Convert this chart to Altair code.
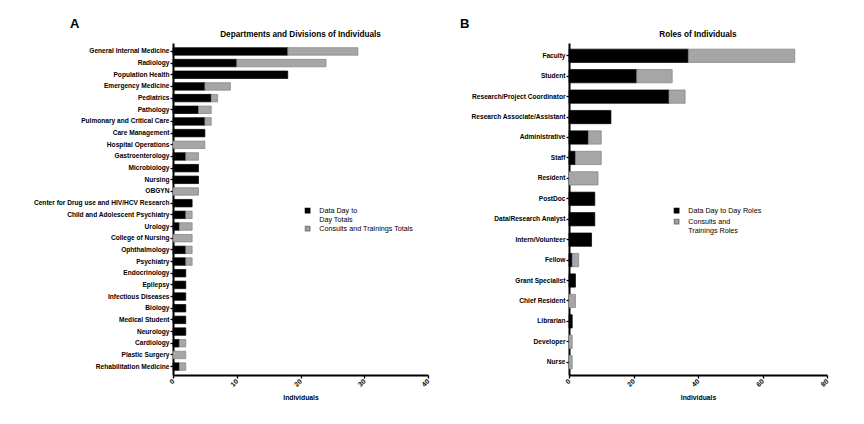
import altair as alt
import pandas as pd

dept_names = [
    "General Internal Medicine", "Radiology", "Population Health", "Emergency Medicine",
    "Pediatrics", "Pathology", "Pulmonary and Critical Care", "Care Management",
    "Hospital Operations", "Gastroenterology", "Microbiology", "Nursing", "OBGYN",
    "Center for Drug use and HIV/HCV Research", "Child and Adolescent Psychiatry",
    "Urology", "College of Nursing", "Ophthalmology", "Psychiatry", "Endocrinology",
    "Epilepsy", "Infectious Diseases", "Biology", "Medical Student", "Neurology",
    "Cardiology", "Plastic Surgery", "Rehabilitation Medicine",
]
dept_day = [18, 10, 18, 5, 6, 4, 5, 5, 0, 2, 4, 4, 0, 3, 2, 1, 0, 2, 2, 2, 2, 2, 2, 2, 2, 1, 0, 1]
dept_consult = [11, 14, 0, 4, 1, 2, 1, 0, 5, 2, 0, 0, 4, 0, 1, 2, 3, 1, 1, 0, 0, 0, 0, 0, 0, 1, 2, 1]

role_names = [
    "Faculty", "Student", "Research/Project Coordinator", "Research Associate/Assistant",
    "Administrative", "Staff", "Resident", "PostDoc", "Data/Research Analyst",
    "Intern/Volunteer", "Fellow", "Grant Specialist", "Chief Resident", "Librarian",
    "Developer", "Nurse",
]
role_day = [37, 21, 31, 13, 6, 2, 0, 8, 8, 7, 1, 2, 0, 1, 0, 0]
role_consult = [33, 11, 5, 0, 4, 8, 9, 0, 0, 0, 2, 0, 2, 0, 1, 1]

dept_series = ["Data Day to Day Totals", "Consults and Trainings Totals"]
role_series = ["Data Day to Day Roles", "Consults and Trainings Roles"]
x_ticks_a = [0, 10, 20, 30, 40]
x_ticks_b = [0, 20, 40, 60, 80]

FONT = "Liberation Sans"


def long_df(names, a, b, series):
    rows = []
    for n, va, vb in zip(names, a, b):
        if va:
            rows.append({"cat": n, "series": series[0], "value": va, "ord": 0})
        if vb:
            rows.append({"cat": n, "series": series[1], "value": vb, "ord": 1})
    return pd.DataFrame(rows)


def panel(names, a, b, series, ticks, xmax, title, pin, pout, y_extent,
          lx, ly, label_expr, width):
    df = long_df(names, a, b, series)
    return alt.Chart(df).mark_bar(strokeWidth=0.7).encode(
        x=alt.X("value:Q", stack="zero",
                scale=alt.Scale(domain=[0, xmax], nice=False),
                axis=alt.Axis(values=ticks, title="Individuals", labelAngle=315,
                              labelAlign="right", labelBaseline="middle",
                              labelFontSize=6.8, labelFontWeight="bold",
                              titleFontSize=6.8, titleFontWeight="bold",
                              titlePadding=6, grid=False)),
        y=alt.Y("cat:N", sort=names,
                scale=alt.Scale(paddingInner=pin, paddingOuter=pout),
                axis=alt.Axis(title=None, minExtent=y_extent, maxExtent=y_extent,
                              labelFontSize=6.6, labelFontWeight="bold",
                              labelPadding=1, labelLimit=300, grid=False)),
        color=alt.Color("series:N",
                        scale=alt.Scale(domain=series, range=["#000000", "#a6a6a6"]),
                        legend=alt.Legend(title=None, orient="none", legendX=lx,
                                          legendY=ly, symbolType="square",
                                          symbolSize=18, labelFontSize=7.2,
                                          labelExpr=label_expr, rowPadding=0,
                                          labelOffset=8)),
        stroke=alt.Stroke("series:N",
                          scale=alt.Scale(domain=series, range=["#000000", "#808080"]),
                          legend=None),
        order=alt.Order("ord:Q"),
    ).properties(
        width=width, height=332,
        title=alt.TitleParams(title, fontSize=8.2, fontWeight="bold", anchor="middle",
                              offset=4),
    )


pa = panel(dept_names, dept_day, dept_consult, dept_series, x_ticks_a, 40,
           "Departments and Divisions of Individuals", 0.36, 0.4, 160, 131, 164,
           "datum.label == 'Data Day to Day Totals' ? ['Data Day to', 'Day Totals'] : datum.label",
           255)
pb = panel(role_names, role_day, role_consult, role_series, x_ticks_b, 80,
           "Roles of Individuals", 0.35, 0.3, 113, 104, 164,
           "datum.label == 'Consults and Trainings Roles' ? ['Consults and', 'Trainings Roles'] : datum.label",
           258)

A = alt.vconcat(pa, title=alt.TitleParams("A", anchor="start", fontSize=13,
                                          fontWeight="bold", dx=57, offset=-1))
B = alt.vconcat(pb, title=alt.TitleParams("B", anchor="start", fontSize=13,
                                          fontWeight="bold", dx=4, offset=-1))

chart = alt.hconcat(A, B, spacing=25).resolve_scale(
    color="independent", stroke="independent"
).properties(
    padding={"left": 5, "top": 9, "right": 5, "bottom": 5}
).configure(
    font=FONT
).configure_view(
    stroke=None
).configure_axis(
    domainColor="#000000", domainWidth=2, tickColor="#000000", tickWidth=1.3,
    tickSize=3, labelColor="#000000", titleColor="#000000", labelFont=FONT,
    titleFont=FONT
).configure_title(
    color="#000000", font=FONT
).configure_legend(
    labelColor="#000000", labelFont=FONT
)

chart.save("out.html", embed_options={"renderer": "svg", "actions": False})
